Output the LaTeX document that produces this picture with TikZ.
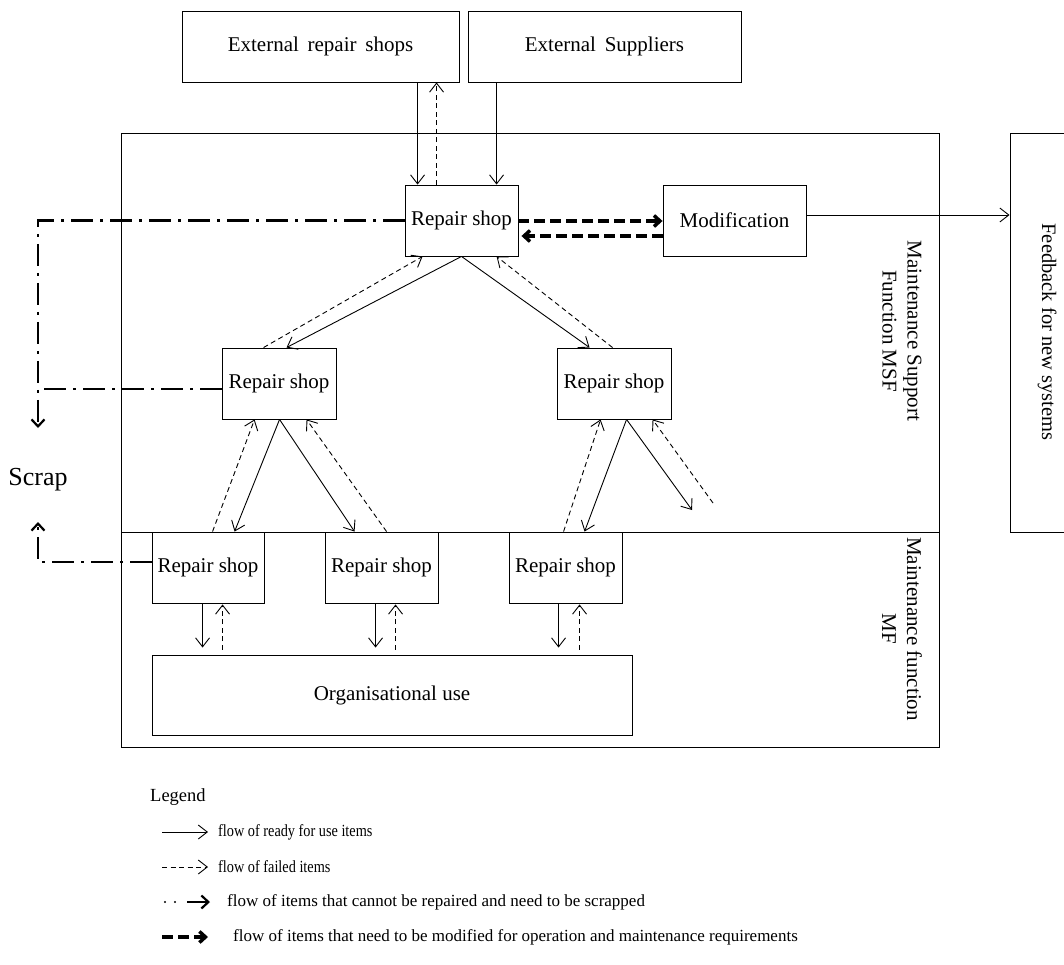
\documentclass[tikz,border=0pt]{standalone}
\usepackage{fontspec}
\setmainfont{Liberation Serif}
\usetikzlibrary{arrows.meta,calc}
\begin{document}
\begin{tikzpicture}[x=1pt,y=-1pt,
  box/.style={draw, line width=0.9pt, inner sep=0pt, font=\fontsize{21}{25}\selectfont},
  frame/.style={draw, line width=0.9pt},
  lbl/.style={font=\fontsize{21}{25}\selectfont, inner sep=0pt},
  ready/.style={line width=0.9pt, -{Straight Barb[length=9pt,width=14pt]}},
  failed/.style={ready, dash pattern=on 5pt off 3.5pt},
  scrapline/.style={line width=2.2pt, dash pattern=on 22pt off 7pt on 3pt off 7pt},
  scraptip/.style={-{Straight Barb[length=7pt,width=13pt]}},
  modflow/.style={line width=3.5pt, dash pattern=on 11pt off 5pt, -{Straight Barb[length=6pt,width=11pt]}},
  legtext/.style={anchor=west, inner sep=0pt, font=\fontsize{17}{20}\selectfont}]
\useasboundingbox (0,0) rectangle (1064,965);

% functional areas
\draw[frame] (121,133) rectangle (939,532);
\draw[frame] (121,532) rectangle (939,747);
\node[frame, minimum width=70pt, minimum height=399pt, inner sep=0pt] (fbox) at (1045,332.5) {};

% area labels
\node[lbl, rotate=-90, align=center] (msf) at (902,331) {Maintenance Support\\Function MSF};
\node[lbl, rotate=-90, align=center] (mf) at (902,629) {Maintenance function\\MF};
\node[lbl, rotate=-90, font=\fontsize{20.5}{24}\selectfont] (feed) at (1047,332) {Feedback for new systems};
\node[font=\fontsize{26}{30}\selectfont, inner sep=0pt] (scrap) at (38,480) {Scrap};

% boxes
\node[box, minimum width=277pt, minimum height=71pt] (ext) at (320.5,46.5) {External\, repair\, shops};
\node[box, minimum width=273pt, minimum height=71pt] (sup) at (604.5,46.5) {External\, Suppliers};
\node[box, minimum width=113pt, minimum height=71pt] (rs0) at (461.5,220.5) {Repair shop};
\node[box, minimum width=143pt, minimum height=71pt] (mod) at (734.5,220.5) {Modification};
\node[box, minimum width=114pt, minimum height=71pt] (rs1) at (279,383.5) {Repair shop};
\node[box, minimum width=114pt, minimum height=71pt] (rs2) at (614,383.5) {Repair shop};
\node[box, minimum width=112pt, minimum height=71pt] (rs3) at (208,567.5) {Repair shop};
\node[box, minimum width=113pt, minimum height=71pt] (rs4) at (381.5,567.5) {Repair shop};
\node[box, minimum width=113pt, minimum height=71pt] (rs5) at (565.5,567.5) {Repair shop};
\node[box, minimum width=480pt, minimum height=80pt] (org) at (392,695) {Organisational use};

% external sources
\draw[ready] ([xshift=236pt]ext.south west) -- ([xshift=13pt]rs0.north west);
\draw[failed] ([xshift=32pt]rs0.north west) -- ([xshift=255pt]ext.south west);
\draw[ready] ([xshift=29pt]sup.south west) -- ([xshift=92pt]rs0.north west);

% modification loop and feedback
\draw[modflow] ([yshift=-0.5pt]rs0.east) -- ([yshift=-0.5pt]mod.west);
\draw[modflow] ([yshift=-15.5pt]mod.west) -- ([yshift=-15.5pt,xshift=3pt]rs0.east);
\coordinate (mfe) at ([yshift=5.5pt]mod.east);
\draw[ready] (mfe) -- (mfe -| fbox.west);

% central shop to intermediate shops
\draw[ready] (rs0.south) -- ([xshift=65pt]rs1.north west);
\draw[failed] ([xshift=42pt]rs1.north west) -- ([xshift=18pt]rs0.south west);
\draw[ready] (rs0.south) -- ([xshift=33pt]rs2.north west);
\draw[failed] ([xshift=56pt]rs2.north west) -- ([xshift=92pt]rs0.south west);

% intermediate shops to local shops
\draw[ready] ([xshift=58pt]rs1.south west) -- ([xshift=83pt]rs3.north west);
\draw[failed] ([xshift=61pt]rs3.north west) -- ([xshift=33pt]rs1.south west);
\draw[ready] ([xshift=58pt]rs1.south west) -- ([xshift=30pt]rs4.north west);
\draw[failed] ([xshift=62pt]rs4.north west) -- ([xshift=85pt]rs1.south west);
\draw[ready] ([xshift=70pt]rs2.south west) -- ([xshift=76pt]rs5.north west);
\draw[failed] ([xshift=55pt]rs5.north west) -- ([xshift=44pt]rs2.south west);
\coordinate (outA) at (692,510);
\coordinate (outB) at (713,503);
\draw[ready] ([xshift=70pt]rs2.south west) -- (outA);
\draw[failed] (outB) -- ([xshift=96pt]rs2.south west);

% local shops and organisational use
\draw[ready, shorten >=7pt] ([xshift=51pt]rs3.south west) -- ([xshift=51pt]org.north west);
\draw[failed, shorten <=5pt, shorten >=1pt] ([xshift=71pt]org.north west) -- ([xshift=71pt]rs3.south west);
\draw[ready, shorten >=7pt] ([xshift=51pt]rs4.south west) -- ([xshift=224pt]org.north west);
\draw[failed, shorten <=5pt, shorten >=1pt] ([xshift=244pt]org.north west) -- ([xshift=71pt]rs4.south west);
\draw[ready, shorten >=7pt] ([xshift=50pt]rs5.south west) -- ([xshift=407pt]org.north west);
\draw[failed, shorten <=5pt, shorten >=1pt] ([xshift=428pt]org.north west) -- ([xshift=71pt]rs5.south west);

% scrap flows
\coordinate (sdown) at (38,428);
\coordinate (sup2) at (38,522);
\coordinate (r1w) at ([yshift=-5.5pt]rs1.west);
\coordinate (r3w) at ([yshift=5.5pt]rs3.west);
\draw[scrapline] (r1w) -- (r1w -| sdown);
\draw[scrapline, scraptip] (rs0.west) -| (sdown);
\draw[scrapline, scraptip] (r3w) -| (sup2);

% legend
\node[anchor=west, inner sep=0pt, font=\fontsize{18.5}{22}\selectfont] (leg) at (150,797) {Legend};
\coordinate (l1a) at (162,832); \coordinate (l1b) at (208,832);
\coordinate (l2a) at (162,867); \coordinate (l2b) at (208,867);
\coordinate (l3a) at (187,902); \coordinate (l3b) at (210,902);
\coordinate (l4a) at (162,937); \coordinate (l4b) at (208,937);
\draw[ready] (l1a) -- (l1b);
\draw[failed] (l2a) -- (l2b);
\fill (165,902) circle (1.2pt) (175,902) circle (1.2pt);
\draw[line width=2.2pt, -{Straight Barb[length=7pt,width=13pt]}] (l3a) -- (l3b);
\draw[modflow] (l4a) -- (l4b);
\node[legtext] (t1) at (218,832) {\scalebox{0.84}[1]{flow of ready for use items}};
\node[legtext] (t2) at (218,867) {\scalebox{0.84}[1]{flow of failed items}};
\node[legtext] (t3) at (227,902) {flow of items that cannot be repaired and need to be scrapped};
\node[legtext] (t4) at (233,937) {flow of items that need to be modified for operation and maintenance requirements};
\end{tikzpicture}
\end{document}
